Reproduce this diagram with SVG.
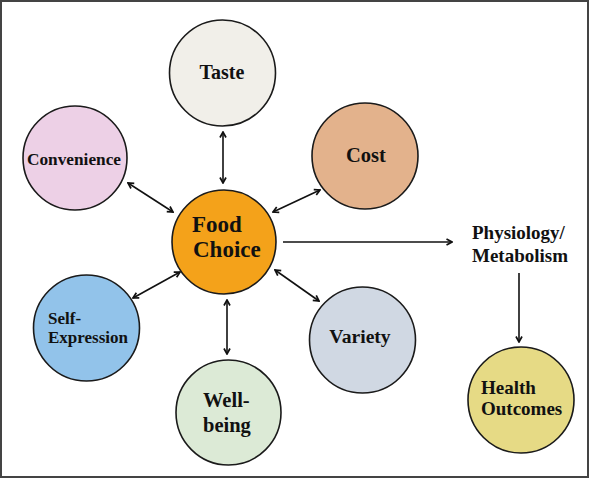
<svg xmlns="http://www.w3.org/2000/svg" width="590" height="479" viewBox="0 0 590 479">
<defs>
<marker id="ah" viewBox="0 0 10 10" refX="9" refY="5" markerWidth="10" markerHeight="10" markerUnits="userSpaceOnUse" orient="auto-start-reverse">
<path d="M3.5,2 L9,5 L3.5,8" fill="none" stroke="#111" stroke-width="1.7"/>
</marker>
<style>
.n{stroke:#1a1a1a;stroke-width:1.6}
.t{font-family:"Liberation Serif","Times New Roman",serif;font-weight:bold;fill:#111}
.c{fill:none;stroke:#111;stroke-width:1.6}
</style>
</defs>
<rect x="0" y="0" width="590" height="479" fill="#fff"/>
<rect x="1" y="1" width="587" height="476" fill="none" stroke="#444" stroke-width="2"/>
<g id="connectors">
<line class="c" x1="223" y1="132" x2="223" y2="183" marker-start="url(#ah)" marker-end="url(#ah)"/>
<line class="c" x1="273" y1="212" x2="320" y2="190" marker-start="url(#ah)" marker-end="url(#ah)"/>
<line class="c" x1="128" y1="183" x2="173" y2="212" marker-start="url(#ah)" marker-end="url(#ah)"/>
<line class="c" x1="133" y1="298" x2="180" y2="272" marker-start="url(#ah)" marker-end="url(#ah)"/>
<line class="c" x1="227" y1="300" x2="227" y2="354" marker-start="url(#ah)" marker-end="url(#ah)"/>
<line class="c" x1="275" y1="270" x2="319" y2="301" marker-start="url(#ah)" marker-end="url(#ah)"/>
<line class="c" x1="283" y1="242" x2="452" y2="242" marker-end="url(#ah)"/>
<line class="c" x1="519" y1="273" x2="519" y2="342" marker-end="url(#ah)"/>
</g>
<g id="taste">
<circle class="n" cx="222.5" cy="73" r="53" fill="#F1EFE9"/>
<text class="t" x="222" y="79" font-size="20" text-anchor="middle">Taste</text>
</g>
<g id="cost">
<circle class="n" cx="365" cy="156" r="53" fill="#E3B28C"/>
<text class="t" x="366" y="162" font-size="20.5" text-anchor="middle">Cost</text>
</g>
<g id="convenience">
<circle class="n" cx="75" cy="158" r="52" fill="#EDD0E6"/>
<text class="t" x="74" y="165" font-size="17.3" text-anchor="middle">Convenience</text>
</g>
<g id="food-choice">
<circle class="n" cx="224" cy="242" r="52" fill="#F4A21A"/>
<text class="t" x="192" y="232" font-size="23">Food</text>
<text class="t" x="193" y="257" font-size="23">Choice</text>
</g>
<g id="self-expression">
<circle class="n" cx="86.5" cy="328" r="53" fill="#92C3EA"/>
<text class="t" x="48" y="324" font-size="17">Self-</text>
<text class="t" x="48" y="343" font-size="17">Expression</text>
</g>
<g id="well-being">
<circle class="n" cx="228.5" cy="412.5" r="52.5" fill="#DCEAD6"/>
<text class="t" x="203" y="407" font-size="20.5">Well-</text>
<text class="t" x="203" y="432" font-size="20.5">being</text>
</g>
<g id="variety">
<circle class="n" cx="362.5" cy="340" r="53" fill="#D0D8E3"/>
<text class="t" x="360" y="343" font-size="19.6" text-anchor="middle">Variety</text>
</g>
<g id="physiology">
<text class="t" x="472" y="239" font-size="19">Physiology/</text>
<text class="t" x="472" y="262" font-size="19">Metabolism</text>
</g>
<g id="health-outcomes">
<circle class="n" cx="521" cy="400" r="53" fill="#E6DA85"/>
<text class="t" x="481" y="394" font-size="19">Health</text>
<text class="t" x="481" y="415" font-size="19">Outcomes</text>
</g>
</svg>
